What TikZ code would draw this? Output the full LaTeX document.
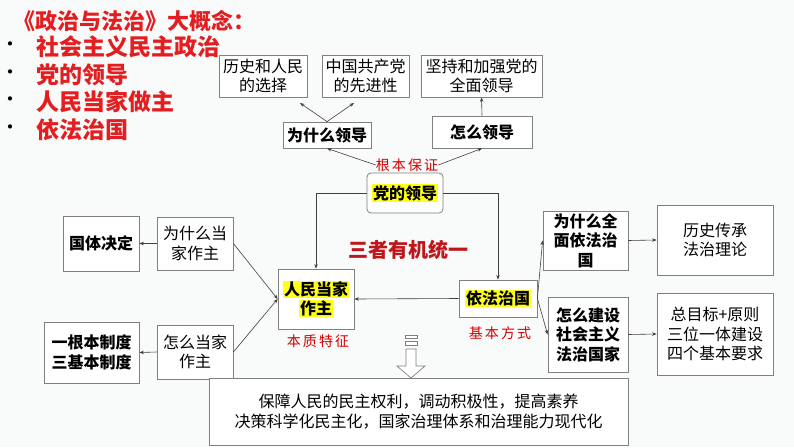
\documentclass[tikz,border=0pt]{standalone}
\usepackage{fontspec}
\setmainfont{Noto Sans CJK SC}
\newfontfamily\lblfont[LetterSpace=15]{Noto Sans CJK SC}
\usetikzlibrary{arrows.meta}
\definecolor{bg}{HTML}{F9FAFA}
\definecolor{boxgray}{HTML}{808080}
\definecolor{linegray}{HTML}{404040}
\definecolor{titlered}{HTML}{E41E20}
\definecolor{darkred}{HTML}{C0161B}
\definecolor{lblred}{HTML}{D40000}
\definecolor{hly}{HTML}{FFFF1A}
\newcommand\yhl[1]{{\setlength{\fboxsep}{1pt}\colorbox{hly}{#1}}}
\tikzset{
  box/.style={draw=boxgray, fill=white, line width=0.8pt, inner sep=0pt, align=center,
    font=\fontsize{16}{19.5}\selectfont},
  bbox/.style={box, font=\fontsize{16}{19.5}\selectfont\bfseries},
  arr/.style={draw=linegray, line width=0.6pt, -{Stealth[length=4.5pt,width=3.5pt]}},
  redlbl/.style={text=lblred, font=\lblfont\fontsize{14}{16}\selectfont, inner sep=0pt},
  titletxt/.style={text=titlered, font=\fontsize{22}{24}\selectfont\bfseries, inner sep=0pt, anchor=west},
  itemtxt/.style={text=titlered, font=\fontsize{23}{25}\selectfont\bfseries, inner sep=0pt, anchor=west},
  bullettxt/.style={text=black, font=\fontsize{20}{22}\selectfont, inner sep=0pt},
}
\begin{document}
\begin{tikzpicture}[x=1pt,y=-1pt]
\fill[bg] (0,0) rectangle (794,447);
\useasboundingbox (0,0) rectangle (794,447);

% title and bullet list
\node[titletxt] (title) at (13,21) {《政治与法治》大概念：};
\node[bullettxt] (b1) at (10,47) {•};
\node[bullettxt] (b2) at (10,75) {•};
\node[bullettxt] (b3) at (10,102) {•};
\node[bullettxt] (b4) at (10,130) {•};
\node[itemtxt] (i1) at (36,47) {社会主义民主政治};
\node[itemtxt] (i2) at (36,75) {党的领导};
\node[itemtxt] (i3) at (36,102) {人民当家做主};
\node[itemtxt] (i4) at (36,130) {依法治国};

% top boxes
\node[box, minimum width=88, minimum height=42] (lsxz) at (263,76) {历史和人民\\的选择};
\node[box, minimum width=87, minimum height=42] (zggcd) at (365.5,76) {中国共产党\\的先进性};
\node[box, minimum width=121, minimum height=42] (jchjq) at (481.5,76) {坚持和加强党的\\全面领导};
\node[bbox, minimum width=88, minimum height=26] (wsmld) at (327,135) {为什么领导};
\node[bbox, minimum width=100, minimum height=32] (zmld) at (482,132) {怎么领导};

% centre
\node[bbox, rounded corners=4pt, minimum width=76, minimum height=40] (dang) at (405,193) {\yhl{党的领导}};
\node[redlbl] (gbbz) at (407,165) {根本保证};
\node[bbox, minimum width=76, minimum height=60] (renmin) at (316,299) {\yhl{人民当家}\\\yhl{作主}};
\node[redlbl] (bzzt) at (318,341) {本质特征};
\node[bbox, minimum width=78, minimum height=37] (yifa) at (498,298.5) {\yhl{依法治国}};
\node[redlbl] (jbfs) at (500,333) {基本方式};
\node[text=darkred, font=\fontsize{20}{22}\selectfont\bfseries, inner sep=0pt] (sz) at (408,250) {三者有机统一};

% left side
\node[box, minimum width=76, minimum height=53] (wsmdj) at (195,243.5) {为什么当\\家作主};
\node[bbox, minimum width=76, minimum height=55] (gtjd) at (101,243.5) {国体决定};
\node[box, minimum width=76, minimum height=54] (zmdj) at (195,352) {怎么当家\\作主};
\node[bbox, minimum width=95, minimum height=61] (ygb) at (91.5,352.5) {一根本制度\\三基本制度};

% bottom
\node[box, minimum width=419, minimum height=67] (bottom) at (418.5,411.5) {保障人民的民主权利，调动积极性，提高素养\\决策科学化民主化，国家治理体系和治理能力现代化};

% right side
\node[bbox, minimum width=85, minimum height=59] (wsmqm) at (585.5,240.5) {为什么全\\面依法治\\国};
\node[bbox, minimum width=80, minimum height=75] (zmjs) at (588,334.5) {怎么建设\\社会主义\\法治国家};
\node[box, minimum width=116, minimum height=70] (lscc) at (715,240) {历史传承\\法治理论};
\node[box, minimum width=116, minimum height=82] (zmb) at (715,334) {总目标+原则\\三位一体建设\\四个基本要求};

% arrow tips near top boxes
\coordinate (t1) at (300,103);
\coordinate (t2) at (354,103);

% connectors
\draw[arr] (wsmld.north) -- (t1);
\draw[arr] (wsmld.north) -- (t2);
\draw[arr] (zmld.north) -- (jchjq.south);
\draw[arr] (gbbz.west) -- (wsmld.south);
\draw[arr] (gbbz.east) -- (zmld.south);
\draw[arr] (dang.west) -| (renmin.north);
\draw[arr] (dang.east) -| (yifa.north);
\draw[arr] (yifa.west) -- (renmin.east);
\draw[arr] (wsmdj.west) -- (gtjd.east);
\draw[arr] (zmdj.west) -- (ygb.east);
\draw[arr] (wsmdj.east) -- (renmin.west);
\draw[arr] (zmdj.east) -- (renmin.west);
\draw[arr] (yifa.east) -- (wsmqm.west);
\draw[arr] (yifa.east) -- (zmjs.west);
\draw[arr] (wsmqm.east) -- (lscc.west);
\draw[arr] (zmjs.east) -- (zmb.west);

% hollow down arrow
\draw[boxgray, line width=0.7pt, fill=white] (405,335) rectangle (417,338.5);
\draw[boxgray, line width=0.7pt, fill=white] (405,341.5) rectangle (417,345);
\draw[boxgray, line width=0.7pt, fill=white] (406,349) -- (416,349) -- (416,366) -- (425,366) -- (411,378) -- (397,366) -- (406,366) -- cycle;
\end{tikzpicture}
\end{document}
